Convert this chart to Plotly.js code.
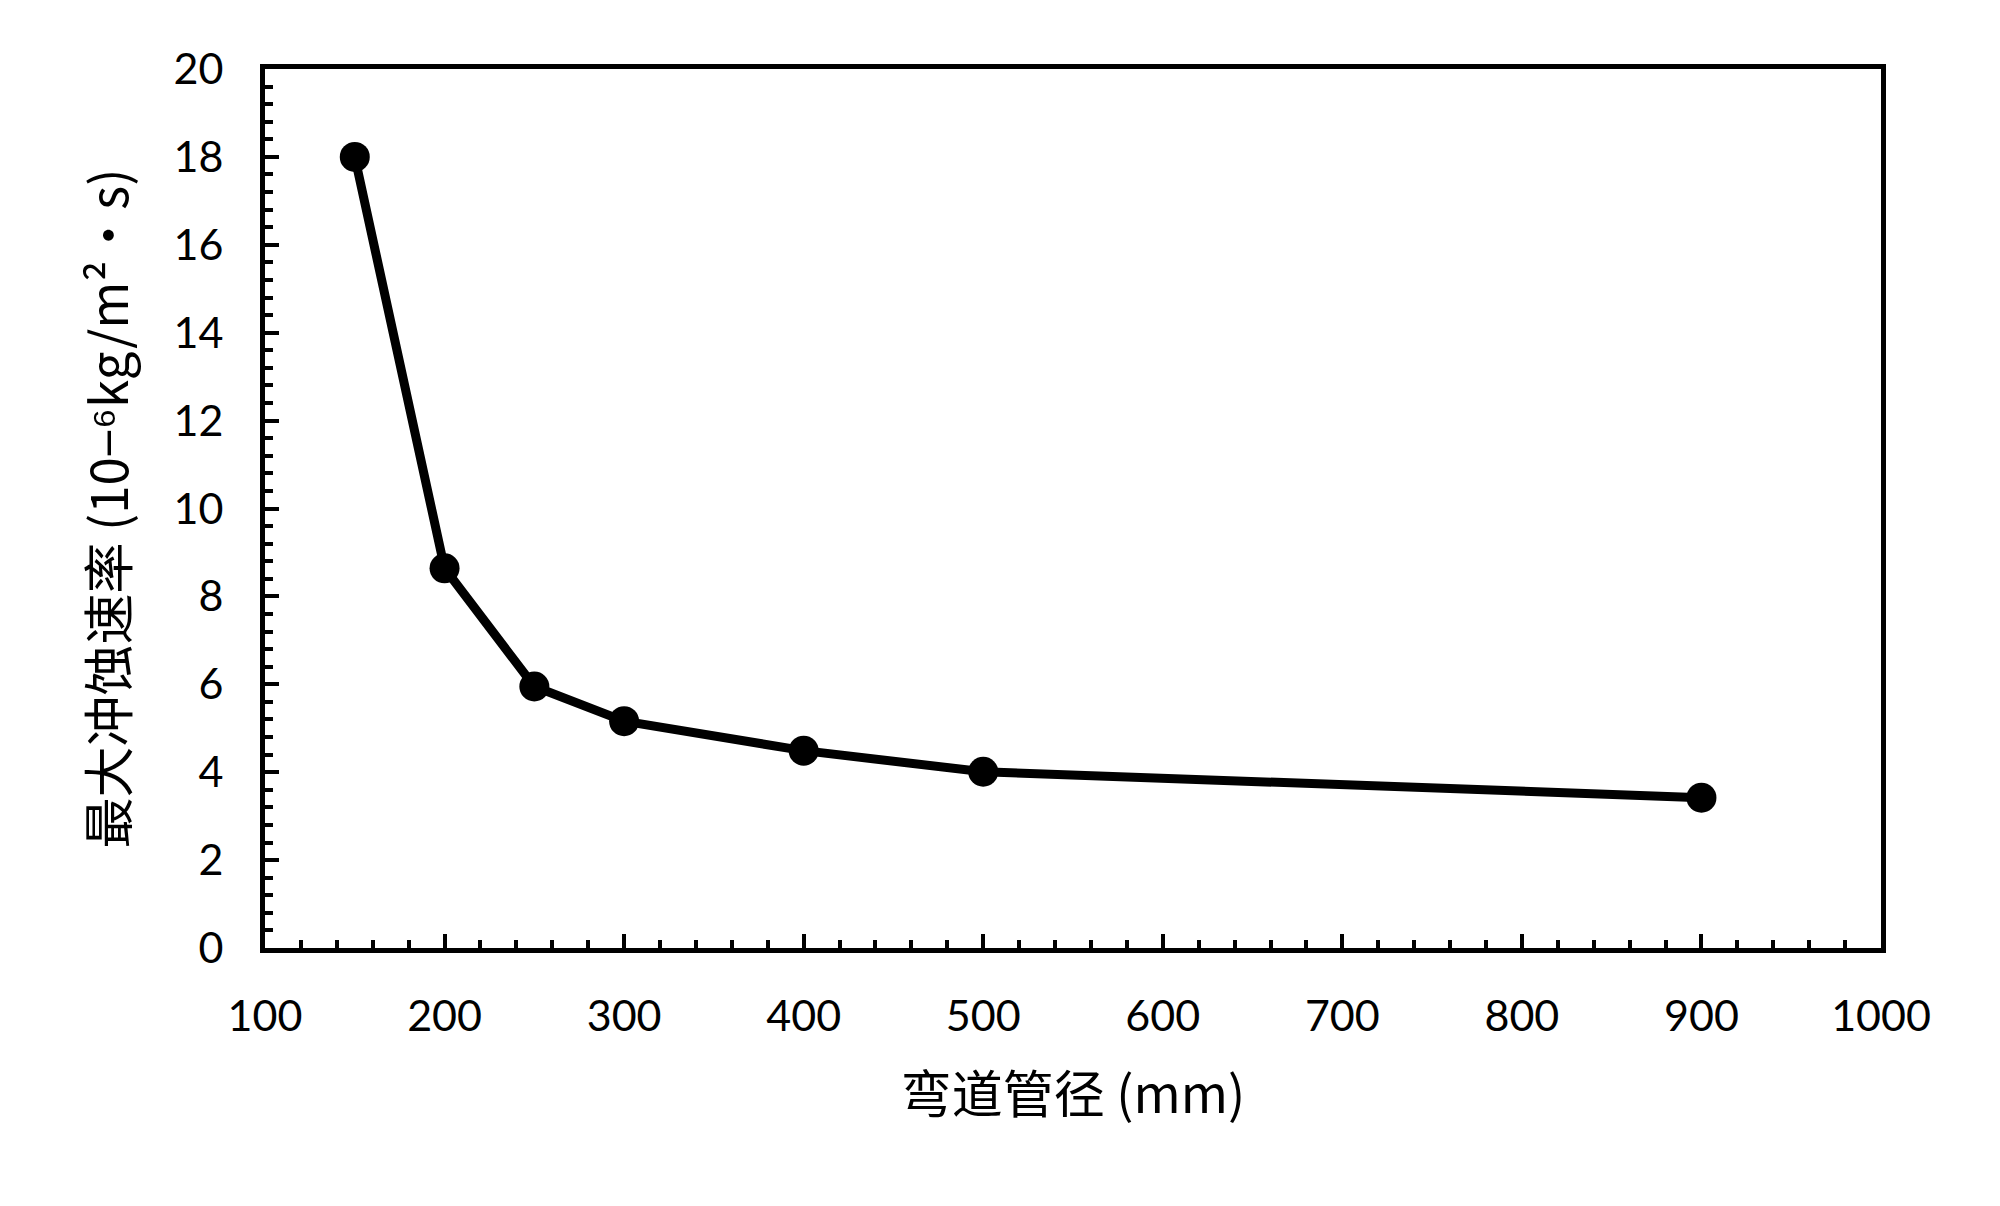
<!DOCTYPE html>
<html>
<head>
<meta charset="utf-8">
<script src="https://cdn.plot.ly/plotly-3.0.1.min.js"></script>
<style>html,body{margin:0;padding:0;background:#fff;}#chart{width:2000px;height:1206px;}</style>
</head>
<body>
<div id="chart"></div>
<script>
const pipeDiameter = [150, 200, 250, 300, 400, 500, 900];
const maxErosionRate = [18.0, 8.64, 5.95, 5.16, 4.49, 4.01, 3.42];
const xTitle = "弯道管径 (mm)";
const yTitle = "最大冲蚀速率 (10−⁶kg/m²・s)";

const cjk = '"Noto Sans CJK SC", sans-serif';
const tickFont = {family: 'Lato, "Open Sans", sans-serif', size: 43, color: '#000'};

const trace = {
  x: pipeDiameter,
  y: maxErosionRate,
  type: 'scatter',
  mode: 'lines+markers',
  line: {color: '#000', width: 9},
  marker: {color: '#000', size: 30},
  showlegend: false,
  cliponaxis: false
};

const layout = {
  width: 2000,
  height: 1206,
  paper_bgcolor: '#fff',
  plot_bgcolor: '#fff',
  margin: {l: 265, r: 119, t: 69, b: 258},
  xaxis: {
    range: [100, 1000],
    dtick: 100,
    tick0: 100,
    showgrid: false,
    zeroline: false,
    showline: true,
    linecolor: '#000',
    linewidth: 5,
    mirror: true,
    ticks: 'inside',
    ticklen: 14,
    tickwidth: 4,
    tickcolor: '#000',
    ticklabelstandoff: 26,
    tickfont: tickFont,
    minor: {dtick: 20, tick0: 100, ticks: 'inside', ticklen: 8, tickwidth: 4, tickcolor: '#000', showgrid: false},
    title: {text: xTitle, font: {family: cjk, size: 51, color: '#000'}, standoff: 40}
  },
  yaxis: {
    range: [0, 20],
    dtick: 2,
    tick0: 0,
    showgrid: false,
    zeroline: false,
    showline: true,
    linecolor: '#000',
    linewidth: 5,
    mirror: true,
    ticks: 'inside',
    ticklen: 14,
    tickwidth: 4,
    tickcolor: '#000',
    ticklabelstandoff: 28,
    tickfont: tickFont,
    minor: {dtick: 0.4, tick0: 0, ticks: 'inside', ticklen: 8, tickwidth: 4, tickcolor: '#000', showgrid: false},
    title: {text: yTitle, font: {family: cjk, size: 51, color: '#000'}, standoff: 30}
  }
};

Plotly.newPlot('chart', [trace], layout, {displayModeBar: false, staticPlot: true});
</script>
</body>
</html>
